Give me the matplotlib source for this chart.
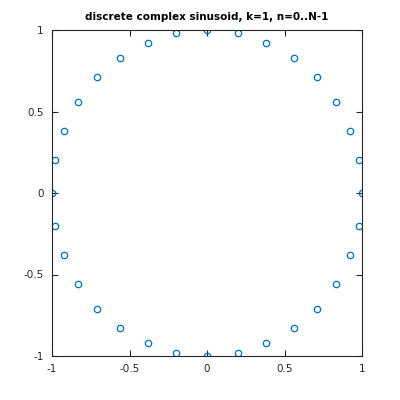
import matplotlib
matplotlib.use('Agg')
import matplotlib.pyplot as plt

# points, n = 0..31
re_vals = [1.00, 0.98, 0.92, 0.83, 0.71, 0.56, 0.38, 0.20,
           0.00, -0.20, -0.38, -0.56, -0.71, -0.83, -0.92, -0.98,
           -1.00, -0.98, -0.92, -0.83, -0.71, -0.56, -0.38, -0.20,
           0.00, 0.20, 0.38, 0.56, 0.71, 0.83, 0.92, 0.98]
im_vals = [0.00, 0.20, 0.38, 0.56, 0.71, 0.83, 0.92, 0.98,
           1.00, 0.98, 0.92, 0.83, 0.71, 0.56, 0.38, 0.20,
           0.00, -0.20, -0.38, -0.56, -0.71, -0.83, -0.92, -0.98,
           -1.00, -0.98, -0.92, -0.83, -0.71, -0.56, -0.38, -0.20]

xticks = [-1, -0.5, 0, 0.5, 1]
yticks = [-1, -0.5, 0, 0.5, 1]

fig = plt.figure(figsize=(4, 4), dpi=100)
ax = fig.add_axes([0.13, 0.11, 0.775, 0.815])
ax.plot(re_vals, im_vals, 'o', mfc='none', mec='#0072BD', ms=4.6, mew=0.9)
ax.set_xlim(-1, 1)
ax.set_ylim(-1, 1)
ax.set_xticks(xticks)
ax.set_xticklabels(['-1', '-0.5', '0', '0.5', '1'])
ax.set_yticks(yticks)
ax.set_yticklabels(['-1', '-0.5', '0', '0.5', '1'])
ax.tick_params(direction='in', length=4, labelsize=7.5, colors='#262626',
               top=True, right=True, width=0.8, pad=6)
for s in ax.spines.values():
    s.set_color('#262626')
    s.set_linewidth(0.8)
ax.set_title('discrete complex sinusoid, k=1, n=0..N-1', fontsize=7.5,
             fontweight='bold', pad=7)
fig.savefig('out.png')
